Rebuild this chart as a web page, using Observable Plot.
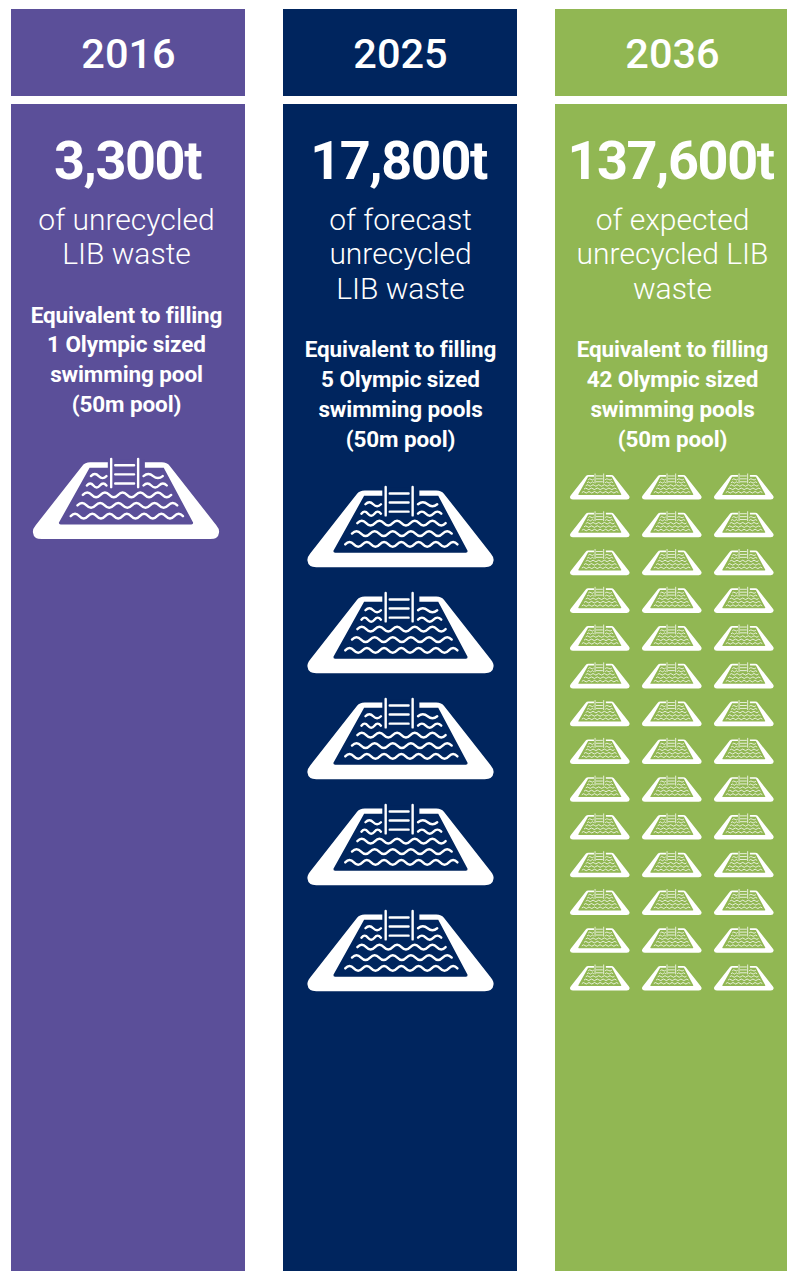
<!DOCTYPE html>
<html>
<head>
<meta charset="utf-8">
<title>Unrecycled LIB waste in Olympic swimming pools</title>
<script src="https://cdn.jsdelivr.net/npm/d3@7"></script>
<script src="https://cdn.jsdelivr.net/npm/@observablehq/plot@0.6"></script>
<style>
  html, body { margin: 0; padding: 0; background: #fff; overflow: hidden; }
  svg { display: block; }
  /* tightened tracking for the bold headline figures and notes */
  g[font-size="54"] { letter-spacing: -1.4px; }
  g[font-size="22.5"] { letter-spacing: -0.1px; }
</style>
</head>
<body>
<div id="chart"></div>
<script>
// Waste tonnage per year and what it amounts to in 50m pools
const years = ["2016", "2025", "2036"];
const tonnes = [3300, 17800, 137600];
const descriptions = [
  "of unrecycled\nLIB waste",
  "of forecast\nunrecycled\nLIB waste",
  "of expected\nunrecycled LIB\nwaste"
];
const poolCounts = [1, 5, 42];
const colours = ["#5b4f99", "#00255e", "#91b753"];

// Page layout, in pixels
const W = 787, H = 1271;
const panelW = 234;
const header = {top: 9, bottom: 96, textY: 54};
const body = {top: 104, bottom: 1271, valueY: 161, descY: 217, descStep: 34.5, noteY: 311, noteStep: 29.8};
const bodyShift = [-2, 0, 0];
const valueNudge = -2;
const bigPool = {r: 93, stroke: 2.4, firstY: [498.3, 526.5], step: 106, x: [114.5, 117]};
const smallPool = {r: 29.8, stroke: 0.8, firstY: 486.2, step: 37.77, x: [44.3, 116.3, 188.3]};

const panels = years.map((year, i) => {
  const n = poolCounts[i];
  const lines = descriptions[i].split("\n").length;
  return {
    year,
    value: d3.format(",")(tonnes[i]) + "t",
    description: descriptions[i],
    note: `Equivalent to filling\n${n} Olympic sized\nswimming pool${n > 1 ? "s" : ""}\n(50m pool)`,
    centre: panelW / 2 + bodyShift[i],
    valueCentre: panelW / 2 + (i === 0 ? -1 : valueNudge),
    noteY: body.noteY + (lines - 2) * body.descStep
  };
});

// One record per pool icon: large stacked icons for small counts, a 3-column grid otherwise
const pools = years.flatMap((year, i) => d3.range(poolCounts[i]).map((k) => {
  if (poolCounts[i] < 10) {
    return {year, x: bigPool.x[i], y: bigPool.firstY[i] + k * bigPool.step, r: bigPool.r, sw: bigPool.stroke};
  }
  return {
    year,
    x: smallPool.x[k % 3],
    y: smallPool.firstY + Math.floor(k / 3) * smallPool.step,
    r: smallPool.r,
    sw: smallPool.stroke
  };
}));

// Pool icon geometry, drawn in a 552-unit-wide box centred on the origin
const CX = 316, CY = 161.5, HALF = 276;
function glyph(drawUnits) {
  return {
    draw(ctx, size) {
      const k = Math.sqrt(size / Math.PI) / HALF;
      const px = (x) => (x - CX) * k, py = (y) => (y - CY) * k;
      drawUnits({
        moveTo: (x, y) => ctx.moveTo(px(x), py(y)),
        lineTo: (x, y) => ctx.lineTo(px(x), py(y)),
        quad: (a, b, x, y) => ctx.quadraticCurveTo(px(a), py(b), px(x), py(y)),
        close: () => ctx.closePath()
      });
    }
  };
}

const deck = glyph((c) => {
  c.moveTo(186, 64);
  c.quad(194, 53, 210, 53);
  c.lineTo(422, 53);
  c.quad(438, 53, 446, 64);
  c.lineTo(584, 240);
  c.quad(594, 252, 592, 262);
  c.quad(590, 281, 566, 281);
  c.lineTo(66, 281);
  c.quad(42, 281, 40, 262);
  c.quad(38, 252, 48, 240);
  c.close();
});

const water = glyph((c) => {
  c.moveTo(262, 45);
  c.lineTo(372, 45);
  c.lineTo(372, 69);
  c.lineTo(428, 69);
  c.lineTo(515, 232);
  c.quad(516, 238, 510, 238);
  c.lineTo(122, 238);
  c.quad(116, 238, 117, 232);
  c.lineTo(208, 69);
  c.lineTo(262, 69);
  c.close();
});

function wave(c, x0, x1, y, period, amp) {
  const half = (x1 - x0) / Math.round((x1 - x0) / (period / 2));
  c.moveTo(x0, y);
  let sign = -1;
  for (let x = x0; x < x1 - 1; x += half) {
    c.quad(x + half / 2, y + sign * amp * 2, x + half, y);
    sign = -sign;
  }
}

const details = glyph((c) => {
  // ladder rails and free-standing rungs
  c.moveTo(272, 43); c.lineTo(272, 127);
  c.moveTo(352, 43); c.lineTo(352, 127);
  for (const y of [62, 89, 116]) { c.moveTo(284, y); c.lineTo(340, y); }
  // ripples
  wave(c, 212, 258, 94, 46, 6);
  wave(c, 368, 425, 94, 46, 6);
  wave(c, 200, 258, 122, 46, 6);
  wave(c, 368, 437, 122, 46, 6);
  wave(c, 188, 450, 150, 52, 7);
  wave(c, 172, 468, 181, 52, 7);
  wave(c, 152, 485, 213, 52, 7);
});

const text = (key, options) => Plot.text(panels, {
  fx: "year",
  text: key,
  fill: "white",
  fontFamily: "Roboto",
  textAnchor: "middle",
  ...options
});

const chart = Plot.plot({
  width: W,
  height: H,
  margin: 0,
  style: {background: "white", overflow: "hidden"},
  fx: {domain: years, range: [11, 11 + 3 * panelW + 2 * 38], paddingInner: 38 / 272, paddingOuter: 0, align: 0, axis: null},
  x: {domain: [0, panelW], axis: null},
  y: {domain: [0, H], range: [0, H], axis: null},
  color: {type: "ordinal", domain: years, range: colours},
  r: {type: "identity"},
  marks: [
    Plot.rect(panels, {fx: "year", x1: 0, x2: panelW, y1: header.top, y2: header.bottom, fill: "year"}),
    Plot.rect(panels, {fx: "year", x1: 0, x2: panelW, y1: body.top, y2: body.bottom, fill: "year"}),
    text("year", {x: panelW / 2, y: header.textY, fontSize: 41.5, fontWeight: 500}),
    text("value", {x: "valueCentre", y: body.valueY, fontSize: 54, fontWeight: 700}),
    text("description", {x: "centre", y: body.descY - 12, lineAnchor: "top", fontSize: 30, fontWeight: 300, lineHeight: body.descStep / 30}),
    text("note", {x: "centre", y: (d) => d.noteY - 10, lineAnchor: "top", fontSize: 22.5, fontWeight: 700, lineHeight: body.noteStep / 22.5}),
    Plot.dot(pools, {fx: "year", x: "x", y: "y", r: "r", symbol: deck, fill: "white", stroke: "none"}),
    Plot.dot(pools, {fx: "year", x: "x", y: "y", r: "r", symbol: water, fill: "year", stroke: "none"}),
    Plot.dot(pools, {fx: "year", x: "x", y: "y", r: "r", symbol: details, fill: "none", stroke: "white", strokeWidth: "sw", strokeLinecap: "round"})
  ]
});
document.getElementById("chart").append(chart);
</script>
</body>
</html>
